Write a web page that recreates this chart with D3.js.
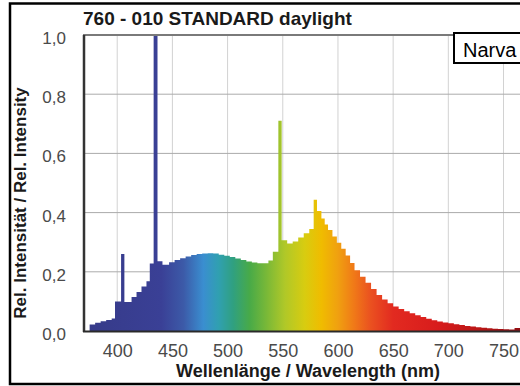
<!DOCTYPE html>
<html>
<head>
<meta charset="utf-8">
<title>760 - 010 STANDARD daylight</title>
<script src="https://cdn.jsdelivr.net/npm/d3@7"></script>
<style>
body{margin:0;background:#fff;}
text{font-family:"Liberation Sans",Arial,sans-serif;}
</style>
</head>
<body>
<div id="chart"></div>
<script>
// spectrum (step histogram, value holds until next wavelength)
var wavelengths = [375, 380, 385, 390, 395, 398, 403.5, 406.5, 413, 417.5,
  422, 426.5, 429.5, 433, 436.5, 441, 447, 452, 457, 462,
  467, 472, 477, 482, 487, 492, 497, 502, 507, 512,
  517, 522, 527, 532, 537, 541, 546, 549, 554, 559,
  564, 569, 574, 578, 581, 585, 588, 591, 595, 599,
  603, 607, 611, 615, 620, 625, 630, 635, 640, 645,
  650, 655, 660, 665, 670, 675, 680, 685, 690, 695,
  700, 705, 710, 715, 720, 725, 730, 735, 740, 745,
  750, 755, 760, 765, 770];
var intensity = [0.022, 0.028, 0.033, 0.037, 0.042, 0.1, 0.26, 0.098, 0.115, 0.132,
  0.15, 0.168, 0.228, 1.0, 0.236, 0.224, 0.232, 0.24, 0.246, 0.252,
  0.257, 0.26, 0.262, 0.263, 0.262, 0.258, 0.254, 0.25, 0.245, 0.24,
  0.235, 0.231, 0.229, 0.229, 0.238, 0.268, 0.71, 0.307, 0.296, 0.302,
  0.316, 0.33, 0.345, 0.443, 0.405, 0.38, 0.36, 0.341, 0.319, 0.298,
  0.278, 0.255, 0.23, 0.205, 0.183, 0.163, 0.142, 0.122, 0.106, 0.094,
  0.083, 0.074, 0.067, 0.06, 0.053, 0.047, 0.041, 0.036, 0.032, 0.029,
  0.026, 0.023, 0.02, 0.017, 0.015, 0.013, 0.011, 0.009, 0.008, 0.007,
  0.006, 0.005, 0.01, 0.02, 0.02];

var xTicks = [400, 450, 500, 550, 600, 650, 700, 750];
var yTicks = [0, 0.2, 0.4, 0.6, 0.8, 1.0];

var title = "760 - 010 STANDARD daylight";
var xTitle = "Wellenlänge / Wavelength (nm)";
var yTitle = "Rel. Intensität / Rel. Intensity";
var brand = "Narva";

// colour of the light at each wavelength
var specStops = [[370,"#363a88"],[440,"#3a4096"],[460,"#3c5aa8"],[478,"#3a8ed0"],
  [492,"#30a0b0"],[505,"#30a080"],[520,"#48aa48"],[535,"#78b838"],[552,"#b0c828"],
  [570,"#d8cc10"],[585,"#f0bc00"],[600,"#f0a010"],[615,"#f07818"],[630,"#ea5020"],
  [650,"#e22a20"],[690,"#d81c1c"],[730,"#b81616"],[770,"#8c0c12"]];

var W = 520, H = 386;
var pl = 83, pt = 35, pb = 331, pr = 530;

var svg = d3.select("#chart").append("svg")
  .attr("width", W).attr("height", H);

var x = d3.scaleLinear().domain([369, 774]).range([pl, pr]);
var y = d3.scaleLinear().domain([0, 1]).range([pb, pt]);

var grad = svg.append("defs").append("linearGradient")
  .attr("id", "spec")
  .attr("gradientUnits", "userSpaceOnUse")
  .attr("x1", x(370)).attr("x2", x(770))
  .attr("y1", 0).attr("y2", 0);
specStops.forEach(function(s){
  grad.append("stop")
    .attr("offset", ((s[0]-370)/400*100) + "%")
    .attr("stop-color", s[1]);
});

// grid
svg.append("g").selectAll("line").data(xTicks).enter().append("line")
  .attr("x1", d => x(d)).attr("x2", d => x(d))
  .attr("y1", pt).attr("y2", pb)
  .attr("stroke", "#d2d2d2").attr("stroke-width", 1);
svg.append("g").selectAll("line").data(yTicks.slice(1, -1)).enter().append("line")
  .attr("x1", pl).attr("x2", pr)
  .attr("y1", d => y(d)).attr("y2", d => y(d))
  .attr("stroke", "#ababab").attr("stroke-width", 1);

// spectrum
var data = d3.zip(wavelengths, intensity);
var area = d3.area()
  .curve(d3.curveStepAfter)
  .x(d => x(d[0]))
  .y0(y(0))
  .y1(d => y(d[1]));
svg.append("path")
  .datum(data)
  .attr("d", area)
  .attr("fill", "url(#spec)");

// frame of plot
svg.append("line").attr("x1", pl).attr("x2", pr)
  .attr("y1", pt).attr("y2", pt)
  .attr("stroke", "#7a7a7a").attr("stroke-width", 2);
svg.append("line").attr("x1", pl+1).attr("x2", pl+1)
  .attr("y1", pt).attr("y2", pb+1)
  .attr("stroke", "#333").attr("stroke-width", 2.5);
svg.append("line").attr("x1", pl).attr("x2", pr)
  .attr("y1", pb+0.5).attr("y2", pb+0.5)
  .attr("stroke", "#2a2a2a").attr("stroke-width", 2);

// axes labels
var fmt = d3.format(".1f");
var xAx = svg.append("g")
  .attr("transform", "translate(0," + pb + ")")
  .call(d3.axisBottom(x).tickValues(xTicks).tickSize(0).tickPadding(13));
var yAx = svg.append("g")
  .attr("transform", "translate(" + pl + ",0)")
  .call(d3.axisLeft(y).tickValues(yTicks).tickSize(0).tickPadding(17)
    .tickFormat(d => fmt(d).replace(".", ",")));
svg.selectAll(".domain").remove();
xAx.selectAll("text").attr("font-size", 18).attr("fill", "#4a4a4a")
  .style("font-family", '"Liberation Sans",Arial,sans-serif');
yAx.selectAll("text").attr("font-size", 17).attr("fill", "#4a4a4a").attr("y", 3)
  .style("font-family", '"Liberation Sans",Arial,sans-serif');

// titles
svg.append("text").text(title)
  .attr("x", pl).attr("y", 25)
  .attr("font-size", 19).attr("font-weight", "bold").attr("fill", "#1a1a1a");
svg.append("text").text(xTitle)
  .attr("x", 308).attr("y", 377)
  .attr("text-anchor", "middle")
  .attr("font-size", 18).attr("font-weight", "bold").attr("fill", "#1a1a1a");
svg.append("text").text(yTitle)
  .attr("transform", "rotate(-90)")
  .attr("x", -203).attr("y", 26)
  .attr("text-anchor", "middle")
  .attr("font-size", 17).attr("font-weight", "bold").attr("fill", "#1a1a1a");

// brand box
svg.append("rect")
  .attr("x", 454).attr("y", 33).attr("width", 80).attr("height", 30)
  .attr("fill", "#fff").attr("stroke", "#000").attr("stroke-width", 2);
svg.append("text").text(brand)
  .attr("x", 463).attr("y", 57)
  .attr("font-size", 20).attr("fill", "#000");

// outer frame
svg.append("rect")
  .attr("x", 10).attr("y", 3.5).attr("width", 530).attr("height", 380.5)
  .attr("fill", "none").attr("stroke", "#000").attr("stroke-width", 2.5);
</script>
</body>
</html>
